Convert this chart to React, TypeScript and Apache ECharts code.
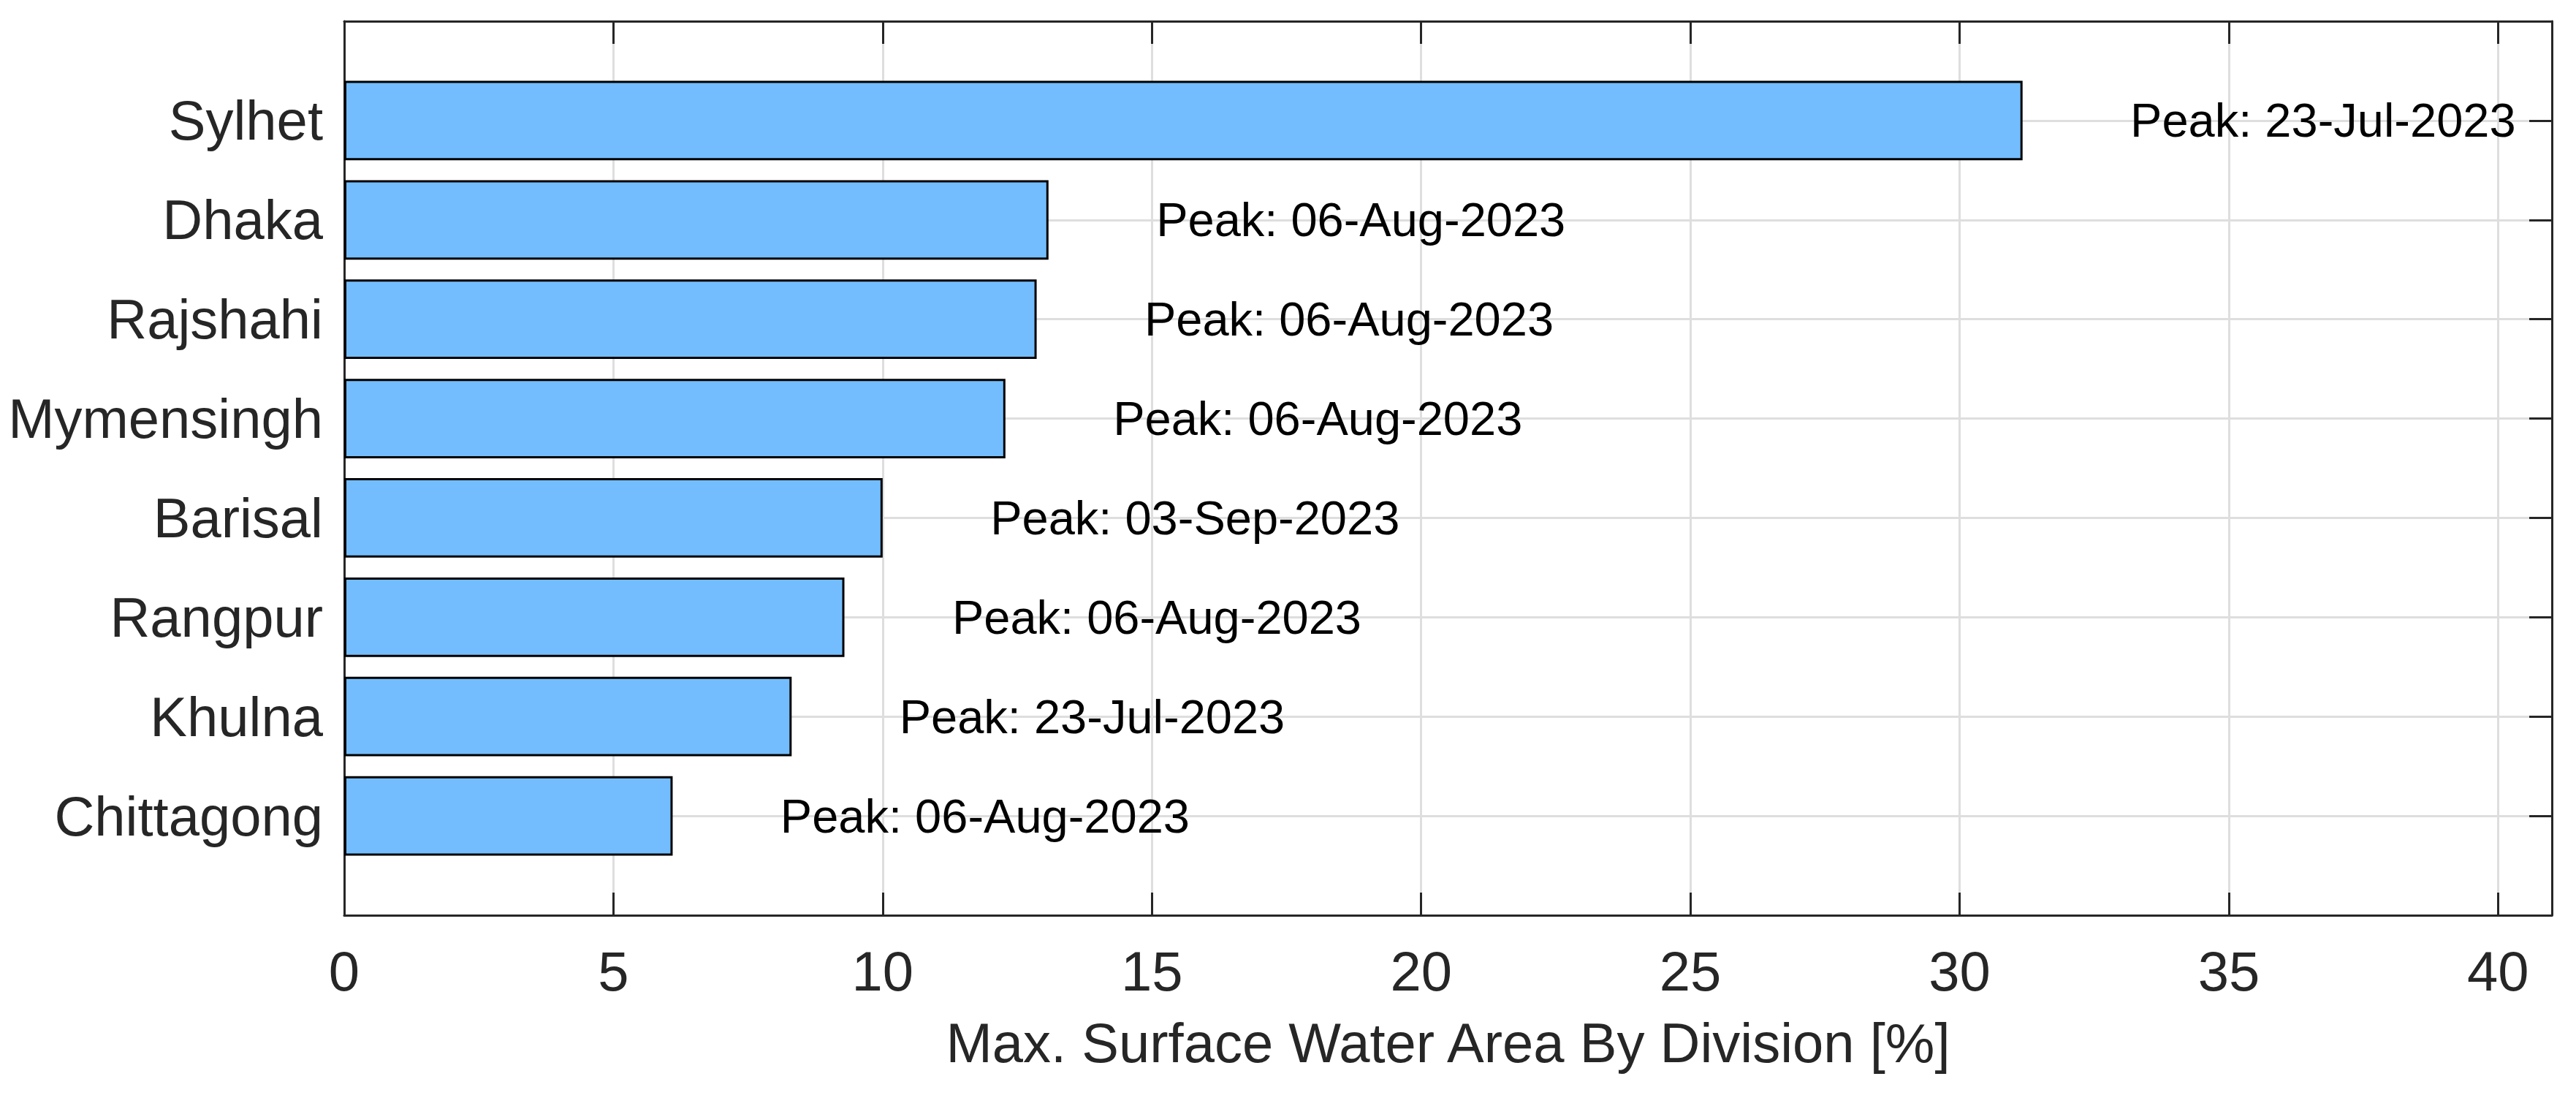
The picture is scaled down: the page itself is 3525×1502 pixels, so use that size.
import React, { useEffect, useRef } from 'react';
import * as echarts from 'echarts';

// Divisions, top to bottom as drawn
const divisions = ['Sylhet', 'Dhaka', 'Rajshahi', 'Mymensingh', 'Barisal', 'Rangpur', 'Khulna', 'Chittagong'];
// Max. surface water area by division [%]
const maxWaterArea = [31.17, 13.08, 12.86, 12.28, 10.0, 9.29, 8.31, 6.1];
// Date of the peak
const peakDates = ['23-Jul-2023', '06-Aug-2023', '06-Aug-2023', '06-Aug-2023', '03-Sep-2023', '06-Aug-2023', '23-Jul-2023', '06-Aug-2023'];
// x axis
const xMin = 0;
const xMax = 41;
const xInterval = 5;
const xTitle = 'Max. Surface Water Area By Division [%]';
const labelOffsetUnits = 2;

const FONT = "'Liberation Sans', Arial, Helvetica, sans-serif";
const AXIS = '#262626';
const GRID = '#dedede';

export default function App() {
  const ref = useRef<HTMLDivElement>(null);
  useEffect(() => {
    if (!ref.current) return;
    const chart = echarts.init(ref.current, undefined, { renderer: 'svg' });
    const gridLeft = 471, gridTop = 29, gridW = 3021, gridH = 1223;
    const pxPerUnit = gridW / (xMax - xMin);
    const catData = ['', ...divisions, ''];
    const valueAxisBase = {
      type: 'value' as const,
      min: xMin,
      max: xMax,
      interval: xInterval,
    };
    chart.setOption({
      animation: false,
      backgroundColor: '#ffffff',
      textStyle: { fontFamily: FONT },
      grid: { left: gridLeft, top: gridTop, width: gridW, height: gridH, containLabel: false },
      xAxis: [
        {
          ...valueAxisBase,
          position: 'bottom',
          name: xTitle,
          nameLocation: 'middle',
          nameGap: 136,
          nameTextStyle: { fontSize: 76, color: AXIS, fontFamily: FONT },
          axisLine: { show: true, onZero: false, lineStyle: { color: AXIS, width: 3 } },
          axisTick: { show: true, inside: true, length: 31, lineStyle: { color: AXIS, width: 3 } },
          axisLabel: { fontSize: 76, color: AXIS, margin: 38, fontFamily: FONT, showMaxLabel: false },
          splitLine: { show: true, lineStyle: { color: GRID, width: 3 } },
        },
        {
          ...valueAxisBase,
          position: 'top',
          axisLine: { show: true, onZero: false, lineStyle: { color: AXIS, width: 3 } },
          axisTick: { show: true, inside: true, length: 31, lineStyle: { color: AXIS, width: 3 } },
          axisLabel: { show: false },
          splitLine: { show: false },
        },
      ],
      yAxis: [
        {
          type: 'category',
          data: catData,
          inverse: true,
          boundaryGap: false,
          position: 'left',
          axisLine: { show: true, onZero: false, lineStyle: { color: AXIS, width: 3 } },
          axisTick: { show: true, inside: true, length: 31, lineStyle: { color: AXIS, width: 3 } },
          axisLabel: { fontSize: 76, color: AXIS, margin: 29, fontFamily: FONT, interval: 0 },
          splitLine: { show: true, interval: 0, lineStyle: { color: GRID, width: 3 } },
        },
        {
          type: 'category',
          data: catData,
          inverse: true,
          boundaryGap: false,
          position: 'right',
          axisLine: { show: true, onZero: false, lineStyle: { color: AXIS, width: 3 } },
          axisTick: { show: true, inside: true, interval: 0, length: 31, lineStyle: { color: AXIS, width: 3 } },
          axisLabel: { show: false },
          splitLine: { show: false },
        },
      ],
      series: [
        {
          type: 'bar',
          xAxisIndex: 0,
          yAxisIndex: 0,
          barWidth: '80%',
          data: maxWaterArea.map((v, i) => [v, i + 1]),
          itemStyle: { color: '#73BDFF', borderColor: '#000000', borderWidth: 3 },
          label: {
            show: true,
            position: 'right',
            distance: labelOffsetUnits * pxPerUnit,
            fontSize: 65,
            color: '#000000',
            fontFamily: FONT,
            formatter: (p: any) => 'Peak: ' + peakDates[p.dataIndex],
          },
        },
      ],
    });
    return () => chart.dispose();
  }, []);
  return (
    <div
      ref={ref}
      style={{ position: 'fixed', left: 0, top: 0, width: 3525, height: 1502, background: '#fff' }}
    />
  );
}
